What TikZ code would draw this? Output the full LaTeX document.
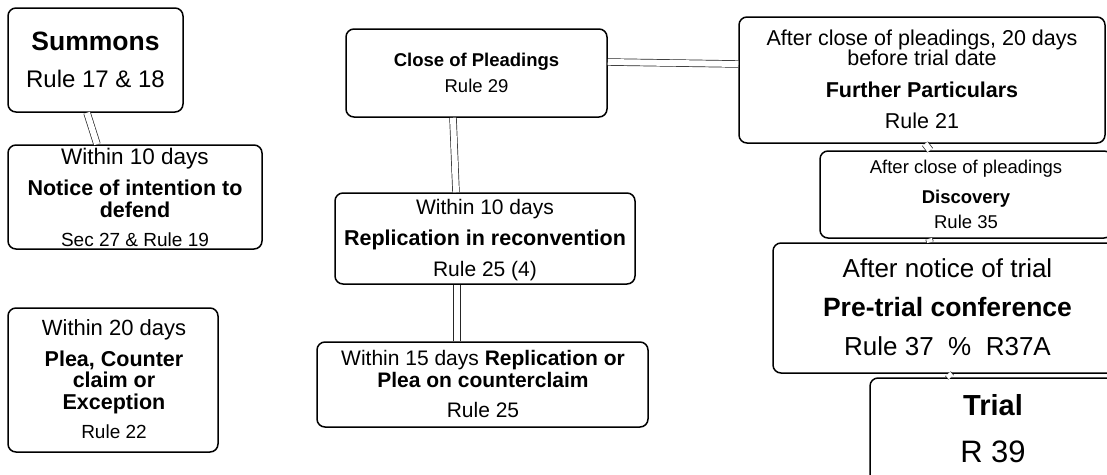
\documentclass[tikz,border=0pt]{standalone}
\usepackage{fontspec}
\setmainfont{Liberation Sans}
\usepackage{tikz}

\tikzset{
	box/.style={draw, line width=1.5pt, rounded corners=8pt, fill=white, inner sep=0pt},
	link/.style={draw=black!85, line width=0.7pt, double=white, double distance=6pt},
	txt/.style={anchor=base, inner sep=0pt}
}
\newcommand{\fs}[1]{\fontsize{#1}{#1}\selectfont}

\begin{document}
\begin{tikzpicture}[x=1pt,y=-1pt]
		\useasboundingbox (0,0) rectangle (1107,474);
		\clip (0,0) rectangle (1107,474);
		% boxes
		\node (summons) [box, minimum width=175pt, minimum height=104pt] at (95.5,60) {};
		\node (notice) [box, minimum width=254pt, minimum height=104pt] at (135,197) {};
		\node (plea) [box, minimum width=210pt, minimum height=144pt] at (113,380) {};
		\node (close) [box, minimum width=261pt, minimum height=88pt] at (476.5,73) {};
		\node (reconv) [box, minimum width=300pt, minimum height=91pt] at (485,238.5) {};
		\node (counter) [box, minimum width=331pt, minimum height=85pt] at (482.5,384.5) {};
		\node (further) [box, minimum width=366pt, minimum height=126pt] at (922,80) {};
		\node (discovery) [box, minimum width=292pt, minimum height=87pt] at (966,194.5) {};
		\node (pretrial) [box, minimum width=349pt, minimum height=130pt] at (947.5,308) {};
		\node (trial) [box, minimum width=246pt, minimum height=112pt] at (993,434) {};
		% connectors
		\draw[link] ([xshift=-8.5pt]summons.south) -- ([xshift=-38pt]notice.north);
		\draw[link] ([xshift=-23.5pt]close.south) -- ([xshift=-29pt]reconv.north);
		\draw[link] ([xshift=-28pt]reconv.south) -- ([xshift=-25.5pt]counter.north);
		\draw[link] ([yshift=11pt]close.east) -- ([yshift=16pt]further.west);
		\draw[link] ([xshift=3pt]further.south) -- ([xshift=-36pt]discovery.north);
		\draw[link] ([xshift=-37pt]discovery.south) -- ([xshift=-17.5pt]pretrial.north);
		\draw[link] ([xshift=0.5pt]pretrial.south) -- ([xshift=-42pt]trial.north);
		% texts
		\node (summonsA) [txt] at (95.5,50) {\fs{26.5}\textbf{Summons}};
		\node (summonsB) [txt] at (95.5,87) {\fs{24}Rule 17 \& 18};
		\node (noticeA) [txt] at (135,164) {\fs{22.5}Within 10 days};
		\node (noticeB) [txt] at (135,195) {\fs{21.5}\textbf{Notice of intention to}};
		\node (noticeC) [txt] at (135,217) {\fs{21.5}\textbf{defend}};
		\node (noticeD) [txt] at (135,246) {\fs{19}Sec 27 \& Rule 19};
		\node (pleaA) [txt] at (114,335) {\fs{22}Within 20 days};
		\node (pleaB) [txt] at (114,366) {\fs{21.5}\textbf{Plea, Counter}};
		\node (pleaC) [txt] at (114,387) {\fs{21.5}\textbf{claim or}};
		\node (pleaD) [txt] at (114,409) {\fs{21.5}\textbf{Exception}};
		\node (pleaE) [txt] at (114,438) {\fs{19}Rule 22};
		\node (closeA) [txt] at (476.5,66) {\fs{18.5}\textbf{Close of Pleadings}};
		\node (closeB) [txt] at (476.5,92) {\fs{18.5}Rule 29};
		\node (reconvA) [txt] at (485,214) {\fs{21}Within 10 days};
		\node (reconvB) [txt] at (485,245) {\fs{21.5}\textbf{Replication in reconvention}};
		\node (reconvC) [txt] at (485,276) {\fs{21}Rule 25 (4)};
		\node (counterA) [txt] at (483,365) {\fs{21}Within 15 days \textbf{Replication or}};
		\node (counterB) [txt] at (483,387) {\fs{21}\textbf{Plea on counterclaim}};
		\node (counterC) [txt] at (483,417) {\fs{21}Rule 25};
		\node (furtherA) [txt] at (922,45) {\fs{21.5}After close of pleadings, 20 days};
		\node (furtherB) [txt] at (922,65) {\fs{21.5}before trial date};
		\node (furtherC) [txt] at (922,97) {\fs{21.5}\textbf{Further Particulars}};
		\node (furtherD) [txt] at (922,128) {\fs{21.5}Rule 21};
		\node (discoveryA) [txt] at (966,173) {\fs{18.5}After close of pleadings};
		\node (discoveryB) [txt] at (966,203) {\fs{18.5}\textbf{Discovery}};
		\node (discoveryC) [txt] at (966,228) {\fs{18.5}Rule 35};
		\node (pretrialA) [txt] at (947.5,277) {\fs{26}After notice of trial};
		\node (pretrialB) [txt] at (947.5,316) {\fs{26.5}\textbf{Pre-trial conference}};
		\node (pretrialC) [txt] at (947.5,355) {\fs{26}Rule 37\ \ \%\ \ R37A};
		\node (trialA) [txt] at (993,415) {\fs{29}\textbf{Trial}};
		\node (trialB) [txt] at (993,462) {\fs{31}R 39};
\end{tikzpicture}
\end{document}
